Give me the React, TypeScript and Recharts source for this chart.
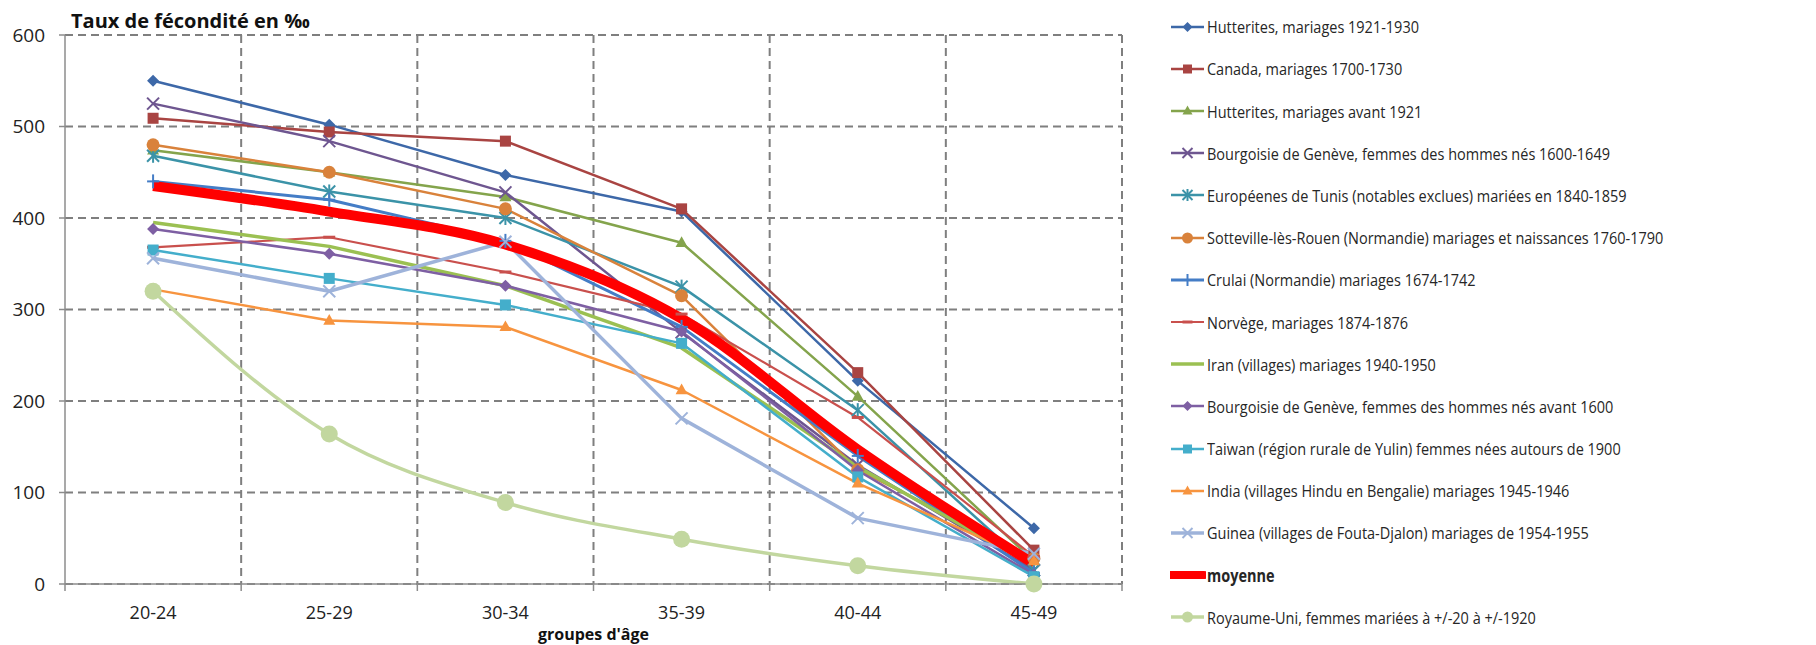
import React from "react";
import { LineChart, Line, XAxis, YAxis, CartesianGrid, Legend, Label } from "recharts";

// categories + axis ticks
const AGES = ["20-24", "25-29", "30-34", "35-39", "40-44", "45-49"];
const Y_TICKS = [0, 100, 200, 300, 400, 500, 600];

// fertility rates (per 1000)
const hutterites1921 = [550, 502, 447, 407, 222, 61];
const canada = [509, 494, 484, 410, 231, 37];
const hutteritesAvant = [474, 450, 423, 373, 205, 25];
const geneve1600 = [525, 484, 428, 275, 130, 15];
const tunis = [468, 429, 400, 325, 190, 15];
const sotteville = [480, 450, 410, 315, 125, 28];
const crulai = [440, 420, 375, 281, 140, 12];
const norvege = [368, 379, 341, 295, 182, 30];
const iran = [395, 369, 326, 258, 128, 20];
const geneveAvant = [388, 361, 326, 276, 124, 10];
const taiwan = [365, 334, 305, 263, 117, 8];
const india = [322, 288, 281, 212, 110, 25];
const guinea = [356, 320, 374, 181, 72, 33];
const moyenne = [435, 407, 371, 290, 147, 22];
const royaumeUni = [320, 164, 89, 49, 20, 0];

type Shape = "diamond" | "square" | "triangle" | "x" | "star" | "circle" | "plus" | "dash" | "none";

type Serie = {
  key: string;
  name: string;
  values: number[];
  color: string;
  shape: Shape;
  width: number;
  size?: number;
  smooth?: boolean;
  bold?: boolean;
};

const SERIES: Serie[] = [
  { key: "hutterites1921", name: "Hutterites, mariages 1921-1930", values: hutterites1921, color: "#3D68A8", shape: "diamond", width: 2.5 },
  { key: "canada", name: "Canada, mariages 1700-1730", values: canada, color: "#A94442", shape: "square", width: 2.5 },
  { key: "hutteritesAvant", name: "Hutterites, mariages avant  1921", values: hutteritesAvant, color: "#84A44C", shape: "triangle", width: 2.5 },
  { key: "geneve1600", name: "Bourgoisie de Genève, femmes des hommes nés 1600-1649", values: geneve1600, color: "#6E5690", shape: "x", width: 2.5 },
  { key: "tunis", name: "Européenes de Tunis (notables exclues) mariées en 1840-1859", values: tunis, color: "#3B93A8", shape: "star", width: 2.5 },
  { key: "sotteville", name: "Sotteville-lès-Rouen (Normandie) mariages et naissances 1760-1790", values: sotteville, color: "#D9823B", shape: "circle", width: 2.5, size: 6.5 },
  { key: "crulai", name: "Crulai (Normandie) mariages 1674-1742", values: crulai, color: "#447DC6", shape: "plus", width: 3 },
  { key: "norvege", name: "Norvège, mariages 1874-1876", values: norvege, color: "#C9504D", shape: "dash", width: 2.2 },
  { key: "iran", name: "Iran (villages) mariages 1940-1950", values: iran, color: "#9BC052", shape: "none", width: 3.5 },
  { key: "geneveAvant", name: "Bourgoisie de Genève, femmes des hommes nés avant 1600", values: geneveAvant, color: "#7E5FA3", shape: "diamond", width: 2.5 },
  { key: "taiwan", name: "Taiwan (région rurale de Yulin) femmes nées autours de 1900", values: taiwan, color: "#44AECB", shape: "square", width: 2.5 },
  { key: "india", name: "India (villages Hindu en Bengalie) mariages 1945-1946", values: india, color: "#F7943F", shape: "triangle", width: 2.5 },
  { key: "guinea", name: "Guinea (villages de Fouta-Djalon) mariages de 1954-1955", values: guinea, color: "#9EB3DA", shape: "x", width: 3.5 },
  { key: "moyenne", name: "moyenne", values: moyenne, color: "#FF0000", shape: "none", width: 10, smooth: true, bold: true },
  { key: "royaumeUni", name: "Royaume-Uni, femmes mariées à +/-20 à +/-1920", values: royaumeUni, color: "#C2D79F", shape: "circle", width: 3.5, size: 8.5, smooth: true },
];

const chartData = AGES.map((age, i) => {
  const row: Record<string, string | number> = { age };
  SERIES.forEach((s) => {
    row[s.key] = s.values[i];
  });
  return row;
});

// layout
const W = 1816;
const H = 645;
const Y_AXIS_W = 65;
const X_AXIS_H = 56;
const PLOT_RIGHT = 1122;
const LEGEND_W = 640;
// the vertical legend on the right is added to the right offset by recharts
const MARGIN = { top: 35, right: W - PLOT_RIGHT - LEGEND_W, bottom: 5, left: 0 };
const PLOT_LEFT = MARGIN.left + Y_AXIS_W;
const PLOT_W = PLOT_RIGHT - PLOT_LEFT;
const BAND = PLOT_W / AGES.length;
const X_TICK_MARGIN = 22;

const AXIS_COLOR = "#8c8c8c";
const GRID_COLOR = "#7f7f7f";
const TEXT_COLOR = "#222";
const TICK_FONT = "'Open Sans', sans-serif";

const gridX = AGES.map((_, i) => PLOT_LEFT + BAND * (i + 1));

function Marker({ shape, cx, cy, color, size = 6 }: { shape: Shape; cx: number; cy: number; color: string; size?: number }) {
  const s = size;
  switch (shape) {
    case "diamond":
      return <polygon points={`${cx},${cy - s} ${cx + s},${cy} ${cx},${cy + s} ${cx - s},${cy}`} fill={color} />;
    case "square":
      return <rect x={cx - s + 0.5} y={cy - s + 0.5} width={2 * s - 1} height={2 * s - 1} fill={color} />;
    case "triangle":
      return <polygon points={`${cx},${cy - s - 0.5} ${cx + s},${cy + s * 0.7} ${cx - s},${cy + s * 0.7}`} fill={color} />;
    case "x":
      return (
        <g stroke={color} strokeWidth={2}>
          <line x1={cx - s} y1={cy - s} x2={cx + s} y2={cy + s} />
          <line x1={cx - s} y1={cy + s} x2={cx + s} y2={cy - s} />
        </g>
      );
    case "star":
      return (
        <g stroke={color} strokeWidth={2}>
          <line x1={cx - s} y1={cy - s} x2={cx + s} y2={cy + s} />
          <line x1={cx - s} y1={cy + s} x2={cx + s} y2={cy - s} />
          <line x1={cx} y1={cy - s - 1} x2={cx} y2={cy + s + 1} />
        </g>
      );
    case "plus":
      return (
        <g stroke={color} strokeWidth={2}>
          <line x1={cx - s} y1={cy} x2={cx + s} y2={cy} />
          <line x1={cx} y1={cy - s - 1} x2={cx} y2={cy + s + 1} />
        </g>
      );
    case "dash":
      return <line x1={cx - s} y1={cy} x2={cx + s} y2={cy} stroke={color} strokeWidth={3} />;
    case "circle":
      return <circle cx={cx} cy={cy} r={s} fill={color} />;
    default:
      return null;
  }
}

const makeDot = (s: Serie) => (props: any) => {
  const { cx, cy, index } = props;
  return (
    <g key={`${s.key}-${index}`}>
      <Marker shape={s.shape} cx={cx} cy={cy} color={s.color} size={s.size} />
    </g>
  );
};

const AgeTick = (props: any) => {
  const { x, y, payload, index } = props;
  const axisY = y - X_TICK_MARGIN;
  const half = BAND / 2;
  return (
    <g>
      <line x1={x - half} y1={axisY} x2={x - half} y2={axisY + 7} stroke={AXIS_COLOR} strokeWidth={1.5} />
      {index === AGES.length - 1 && (
        <line x1={x + half} y1={axisY} x2={x + half} y2={axisY + 7} stroke={AXIS_COLOR} strokeWidth={1.5} />
      )}
      <text x={x} y={y} dy="0.71em" textAnchor="middle" fontSize={18} fontFamily={TICK_FONT} fill={TEXT_COLOR}>
        {payload.value}
      </text>
    </g>
  );
};

const renderLegend = (props: any) => {
  const order = SERIES.map((s) => s.key);
  const items = [...(props.payload || [])].sort(
    (a: any, b: any) => order.indexOf(String(a.dataKey)) - order.indexOf(String(b.dataKey))
  );
  return (
    <div style={{ fontFamily: TICK_FONT, fontSize: 17, color: "#262626" }}>
      {items.map((entry: any) => {
        const s = SERIES.find((d) => d.key === entry.dataKey)!;
        return (
          <div key={s.key} style={{ display: "flex", alignItems: "center", height: 42.2, whiteSpace: "nowrap" }}>
            <svg width={36} height={20} style={{ flex: "none" }}>
              <line x1={1} y1={10} x2={34} y2={10} stroke={s.color} strokeWidth={Math.min(s.width, 8)} strokeLinecap={s.key === "moyenne" ? "round" : "butt"} />
              <Marker shape={s.shape} cx={17.5} cy={10} color={s.color} size={s.shape === "circle" ? 5.5 : 5} />
            </svg>
            <span
              style={{
                display: "inline-block",
                marginLeft: 1,
                fontWeight: s.bold ? 700 : 400,
                transform: "scaleX(0.852)",
                transformOrigin: "left center",
              }}
            >
              {entry.value}
            </span>
          </div>
        );
      })}
    </div>
  );
};

export default function App() {
  return (
    <div style={{ position: "absolute", left: 0, top: 0, width: W, height: H, background: "#fff" }}>
      <div
        style={{
          position: "absolute",
          left: 71,
          top: 6,
          fontFamily: TICK_FONT,
          fontWeight: 700,
          fontSize: 20,
          lineHeight: "30px",
          color: "#111",
          zIndex: 2,
        }}
      >
        Taux de fécondité en ‰
      </div>
      <LineChart width={W} height={H} data={chartData} margin={MARGIN}>
        <CartesianGrid
          stroke={GRID_COLOR}
          strokeWidth={2}
          strokeDasharray="8 5"
          verticalPoints={gridX}
        />
        <XAxis
          dataKey="age"
          height={X_AXIS_H}
          padding={{ left: BAND / 2, right: BAND / 2 }}
          axisLine={{ stroke: AXIS_COLOR, strokeWidth: 1.5 }}
          tickLine={false}
          tickSize={0}
          tickMargin={X_TICK_MARGIN}
          tick={<AgeTick />}
          interval={0}
        >
          <Label
            value="groupes d'âge"
            position="insideBottom"
            offset={0}
            style={{ fontFamily: TICK_FONT, fontWeight: 700, fontSize: 16, fill: "#111" }}
          />
        </XAxis>
        <YAxis
          width={Y_AXIS_W}
          domain={[0, 600]}
          ticks={Y_TICKS}
          interval={0}
          axisLine={{ stroke: AXIS_COLOR, strokeWidth: 1.5 }}
          tickLine={{ stroke: AXIS_COLOR, strokeWidth: 1.5 }}
          tickSize={6}
          tickMargin={14}
          tick={{ fontSize: 19, fontFamily: TICK_FONT, fill: TEXT_COLOR }}
        />
        <Legend
          layout="vertical"
          verticalAlign="top"
          align="right"
          content={renderLegend}
          wrapperStyle={{ left: 1170, top: 5.6, width: LEGEND_W }}
        />
        {SERIES.map((s) => (
          <Line
            key={s.key}
            dataKey={s.key}
            name={s.name}
            type={s.smooth ? "monotone" : "linear"}
            stroke={s.color}
            strokeWidth={s.width}
            strokeLinejoin="round"
            dot={s.shape === "none" ? false : makeDot(s)}
            activeDot={false}
            isAnimationActive={false}
          />
        ))}
      </LineChart>
    </div>
  );
}
